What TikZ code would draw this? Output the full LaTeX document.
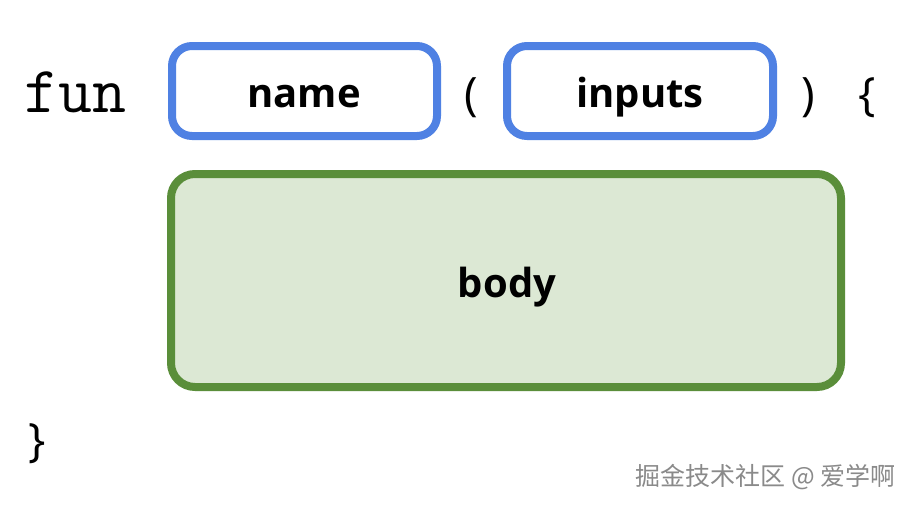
\documentclass[tikz,border=0pt]{standalone}
\usepackage{fontspec}
\setmainfont{Open Sans}
\newfontfamily\cjk{Noto Sans CJK SC}
\definecolor{boxblue}{HTML}{4F81E3}
\definecolor{boxgreen}{HTML}{5A8E3A}
\definecolor{fillgreen}{HTML}{DCE8D4}
\definecolor{wmgray}{HTML}{8A8A8A}
\begin{document}
\begin{tikzpicture}[x=1pt,y=-1pt,
  bluebox/.style={draw=boxblue,line width=8pt,rounded corners=20pt,fill=white},
  greenbox/.style={draw=boxgreen,line width=8pt,rounded corners=24pt,fill=fillgreen},
  lbl/.style={font=\fontsize{40}{44}\selectfont\bfseries,inner sep=0pt,anchor=base},
  punct/.style={font=\fontsize{46}{48}\selectfont,inner sep=0pt,anchor=base}]
\useasboundingbox (0,0) rectangle (914,506);
\fill[white] (0,0) rectangle (914,506);
\draw[bluebox] (172,46) rectangle (437,136);
\draw[bluebox] (507,46) rectangle (773,136);
\draw[greenbox] (171,174) rectangle (841,387);
\node[font=\fontsize{66}{68}\selectfont\ttfamily,inner sep=0pt,anchor=base west] (fun) at (24,112) {fun};
\node[lbl] (name) at (304,107) {name};
\node[lbl] (inputs) at (640,107) {inputs};
\node[lbl] (body) at (507,297) {body};
\node[punct] (lp) at (471,110) {(};
\node[punct] (rp) at (808,110) {)};
\node[punct] (lb) at (867,110) {\{};
\node[punct] (rb) at (37,456) {\}};
\node[font=\fontsize{25}{27}\selectfont\cjk,text=wmgray,inner sep=0pt,anchor=base east] (wm) at (896,485) {掘金技术社区 @ 爱学啊};
\end{tikzpicture}
\end{document}
